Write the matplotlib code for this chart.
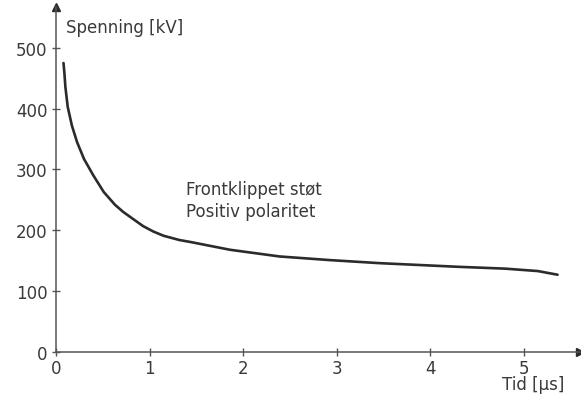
import matplotlib.pyplot as plt

# Voltage vs. time for a front-chopped impulse, positive polarity
tid_us = [0.08, 0.09, 0.10, 0.125, 0.17, 0.225, 0.30, 0.40, 0.51, 0.63,
          0.72, 0.82, 0.93, 1.04, 1.15, 1.32, 1.43, 1.86, 2.39, 2.93, 3.46,
          4.3, 4.8, 5.15, 5.36]
spenning_kv = [475, 458, 436, 403, 372, 345, 317, 290, 263, 242,
               230, 219, 207, 198, 191, 184, 181, 168, 157, 151, 146,
               140, 137, 133, 127]

x_ticks = [0, 1, 2, 3, 4, 5]
y_ticks = [0, 100, 200, 300, 400, 500]

ink = '#2b2b2b'
axis_col = '#555555'
text_col = '#3a3a3a'

fig = plt.figure(figsize=(5.81, 4.02), dpi=100)
ax = fig.add_axes([56 / 581, 49 / 402, 524 / 581, 345 / 402])
ax.set_xlim(0, 5.6)
ax.set_ylim(0, 567)

ax.plot(tid_us, spenning_kv, color=ink, linewidth=1.9,
        solid_capstyle='round', solid_joinstyle='round')

for side in ('top', 'right'):
    ax.spines[side].set_visible(False)
for side in ('left', 'bottom'):
    ax.spines[side].set_color(axis_col)
    ax.spines[side].set_linewidth(1.1)

# arrow heads on the axes
ax.plot(1, 0, '>', color=ink, markersize=6, transform=ax.get_yaxis_transform(), clip_on=False)
ax.plot(0, 1, '^', color=ink, markersize=6, transform=ax.get_xaxis_transform(), clip_on=False)

ax.set_xticks(x_ticks)
ax.set_yticks(y_ticks)
ax.tick_params(direction='inout', length=6, width=1.0, color=axis_col,
               labelsize=12, labelcolor=text_col)
ax.tick_params(axis='x', pad=2)
ax.tick_params(axis='y', pad=3)

ax.text(0.11, 534, 'Spenning [kV]', fontsize=12, color=text_col,
        ha='left', va='center')
ax.text(0.971, -0.093, 'Tid [\u00b5s]', transform=ax.transAxes, fontsize=12,
        color=text_col, ha='right', va='center')
ax.text(1.39, 250, 'Frontklippet støt\nPositiv polaritet', fontsize=12,
        color=text_col, ha='left', va='center', linespacing=1.3)

fig.savefig('out.png', dpi=100)
